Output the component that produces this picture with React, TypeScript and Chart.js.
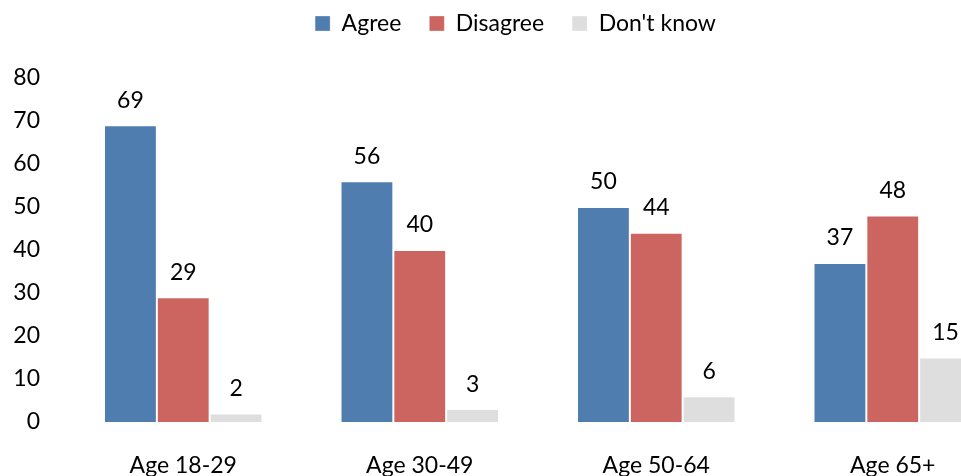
import React, { useEffect, useRef } from "react";
import { Chart, registerables } from "chart.js";

Chart.register(...registerables);

const categories = ["Age 18-29", "Age 30-49", "Age 50-64", "Age 65+"];
const agree = [69, 56, 50, 37];
const disagree = [29, 40, 44, 48];
const dontKnow = [2, 3, 6, 15];
const yTicks = [0, 10, 20, 30, 40, 50, 60, 70, 80];

const FONT = "Lato, 'Open Sans', sans-serif";

// Writes each bar's value above it
const valueLabels = {
  id: "valueLabels",
  afterDatasetsDraw(chart: any) {
    const ctx = chart.ctx;
    ctx.save();
    ctx.font = `23px ${FONT}`;
    ctx.fillStyle = "#000";
    ctx.textAlign = "center";
    ctx.textBaseline = "middle";
    chart.data.datasets.forEach((ds: any, i: number) => {
      const meta = chart.getDatasetMeta(i);
      meta.data.forEach((bar: any, j: number) => {
        ctx.fillText(String(ds.data[j]), bar.x, bar.y - 25);
      });
    });
    ctx.restore();
  },
};

// Lets the y tick labels run into the left padding instead of being clipped
const widenYAxis = {
  id: "widenYAxis",
  afterLayout(chart: any) {
    const y = chart.scales.y;
    if (y) y.left = 0;
  },
};

export default function App() {
  const ref = useRef<HTMLCanvasElement>(null);

  useEffect(() => {
    if (!ref.current) return;
    const chart = new Chart(ref.current, {
      type: "bar",
      data: {
        labels: categories,
        datasets: [
          { label: "Agree", data: agree, backgroundColor: "#4F7DAF", borderColor: "rgba(255,255,255,0.3)", borderWidth: 1 },
          { label: "Disagree", data: disagree, backgroundColor: "#CC655F", borderColor: "rgba(255,255,255,0.3)", borderWidth: 1 },
          { label: "Don't know", data: dontKnow, backgroundColor: "#DEDEDE", borderColor: "rgba(255,255,255,0.3)", borderWidth: 1 },
        ],
      },
      options: {
        responsive: false,
        animation: false,
        layout: { padding: { top: -16, right: 0, left: 20, bottom: 0 } },
        datasets: { bar: { categoryPercentage: 0.67, barPercentage: 1 } },
        plugins: {
          legend: {
            position: "top",
            labels: {
              boxWidth: 15,
              boxHeight: 15,
              padding: 28,
              color: "#000",
              font: { family: FONT, size: 23 },
            },
          },
          // empty title used as a gap between the legend and the plot
          title: {
            display: true,
            text: "",
            position: "top",
            weight: 500,
            font: { size: 1, lineHeight: 1 },
            padding: { top: 32, bottom: 0 },
          },
          tooltip: { enabled: false },
        },
        scales: {
          x: {
            grid: { display: false, drawTicks: false },
            border: { display: false },
            ticks: { color: "#000", padding: 30, font: { family: FONT, size: 23 } },
            afterFit(scale: any) {
              scale.height = 54;
            },
          },
          y: {
            min: 0,
            max: 80,
            afterBuildTicks(scale: any) {
              scale.ticks = yTicks.map((v) => ({ value: v }));
            },
            grid: { display: false, drawTicks: false },
            border: { display: false },
            ticks: { color: "#000", padding: 25, font: { family: FONT, size: 23 } },
            afterFit(scale: any) {
              scale.width = 45;
            },
          },
        },
      },
      plugins: [valueLabels, widenYAxis],
    });
    return () => chart.destroy();
  }, []);

  return (
    <div style={{ position: "fixed", left: 0, top: 0, width: 961, height: 476, overflow: "hidden", background: "#fff" }}>
      <canvas ref={ref} width={1011} height={476} style={{ display: "block" }} />
    </div>
  );
}
